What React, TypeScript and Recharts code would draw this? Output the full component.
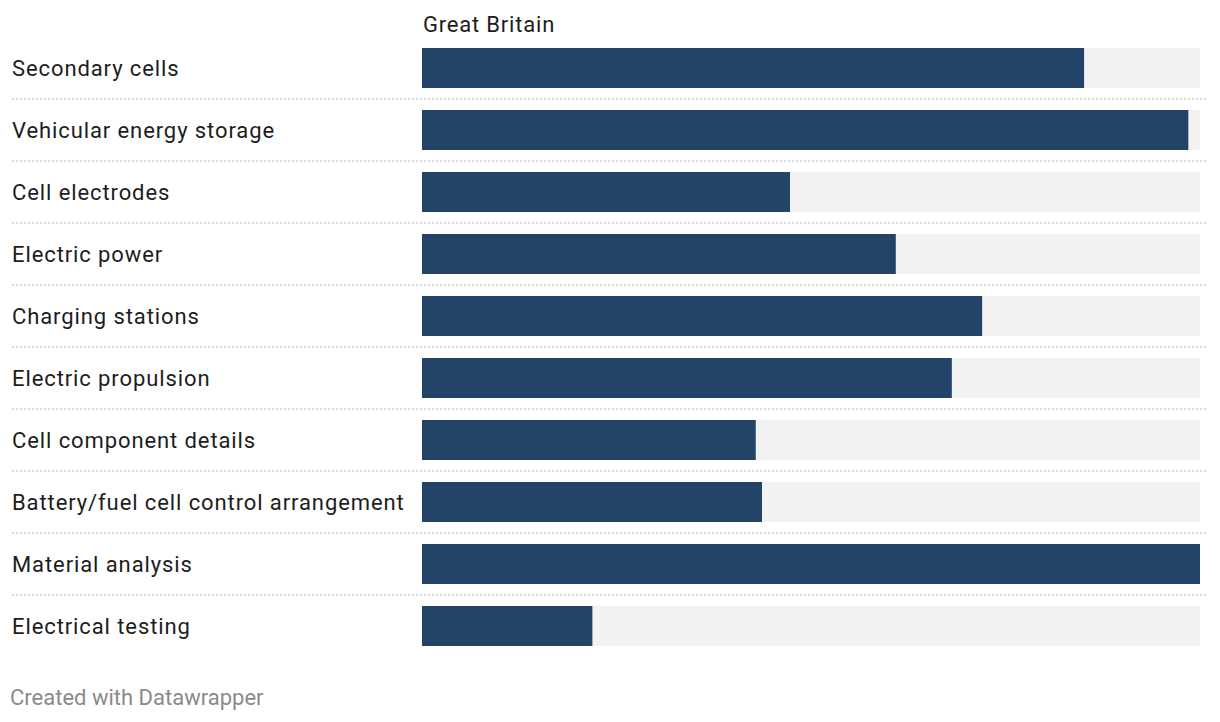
import { BarChart, Bar, XAxis, YAxis } from 'recharts';

const categories = [
  'Secondary cells',
  'Vehicular energy storage',
  'Cell electrodes',
  'Electric power',
  'Charging stations',
  'Electric propulsion',
  'Cell component details',
  'Battery/fuel cell control arrangement',
  'Material analysis',
  'Electrical testing',
];

const greatBritain = [85.1, 98.5, 47.3, 60.9, 72.0, 68.1, 42.9, 43.7, 100, 21.9];

const seriesName = 'Great Britain';

const data = categories.map((name, i) => ({ name, value: greatBritain[i] }));

const font = 'Roboto, "Noto Sans", sans-serif';

function CategoryTick(props: any) {
  const { y, payload, index } = props;
  const last = index === categories.length - 1;
  return (
    <g>
      <text
        x={4}
        y={y}
        dy={8}
        textAnchor="start"
        fontSize={22}
        letterSpacing={0.9}
        fill="#1d1d1d"
        fontFamily={font}
      >
        {payload.value}
      </text>
      {!last && (
        <line x1={4} x2={1200} y1={y + 31} y2={y + 31} stroke="#cfcfcf" strokeWidth={1.5} strokeDasharray="2 2" />
      )}
    </g>
  );
}

export default function App() {
  return (
    <div style={{ position: 'relative', width: 1204, height: 706, fontFamily: font }}>
      <div
        style={{
          position: 'absolute',
          left: 415,
          top: 4,
          fontSize: 22,
          letterSpacing: 0.8,
          color: '#1d1d1d',
          lineHeight: '26px',
          whiteSpace: 'nowrap',
        }}
      >
        {seriesName}
      </div>
      <BarChart
        width={1204}
        height={706}
        data={data}
        layout="vertical"
        margin={{ top: 29, right: 12, bottom: 57, left: 0 }}
        barCategoryGap={22}
      >
        <XAxis type="number" domain={[0, 100]} hide />
        <YAxis
          type="category"
          dataKey="name"
          width={414}
          axisLine={false}
          tickLine={false}
          interval={0}
          tick={<CategoryTick />}
        />
        <Bar
          dataKey="value"
          fill="#234468"
          barSize={40}
          background={{ fill: '#f2f2f2' }}
          isAnimationActive={false}
        />
      </BarChart>
      <div
        style={{
          position: 'absolute',
          left: 2,
          top: 677,
          fontSize: 22,
          color: '#8a8a8a',
          lineHeight: '26px',
          whiteSpace: 'nowrap',
        }}
      >
        Created with Datawrapper
      </div>
    </div>
  );
}
